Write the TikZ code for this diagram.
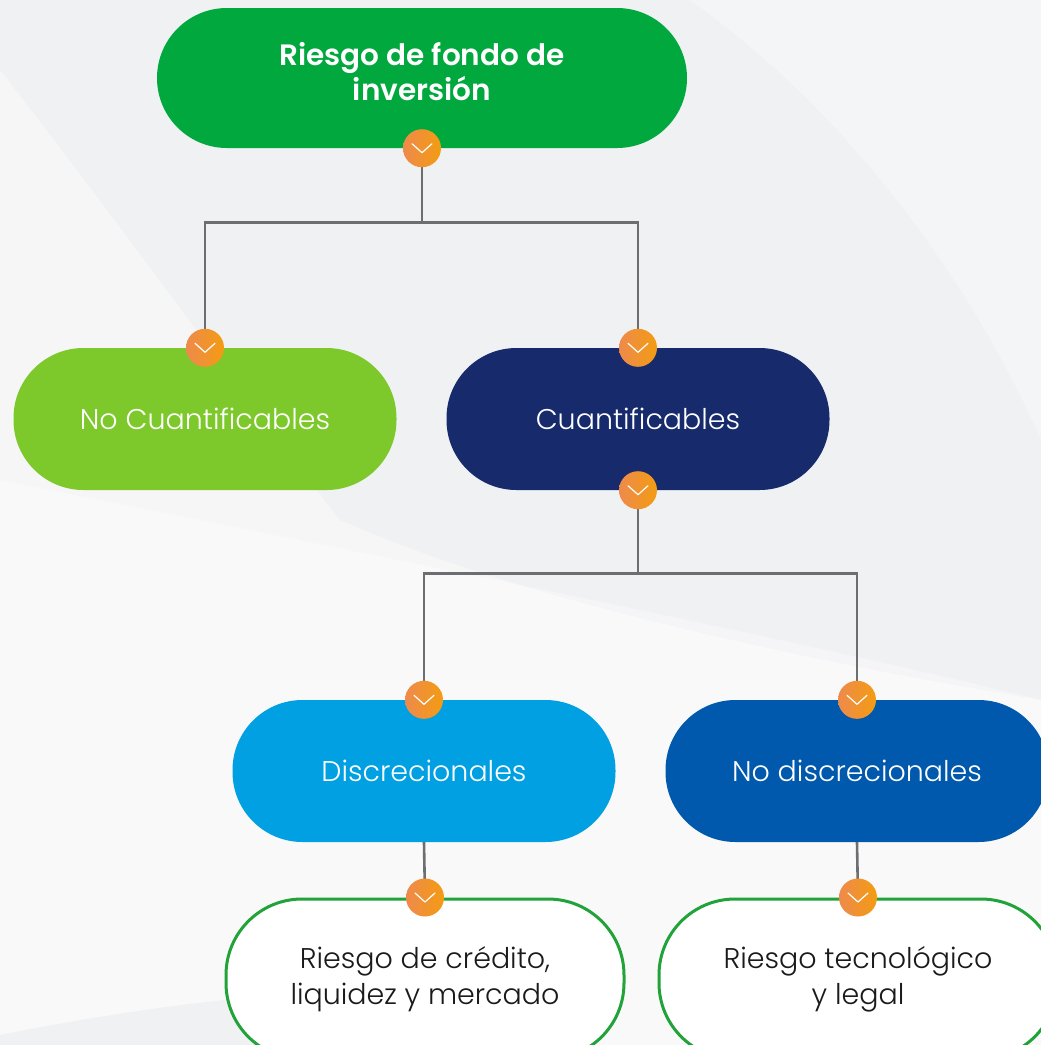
\documentclass[tikz,border=0pt]{standalone}
\usepackage{fontspec}
\setmainfont{Poppins}[UprightFont=* Light, BoldFont=* SemiBold]
\usepackage{xcolor}
\usepackage{tikz}
\usetikzlibrary{positioning, shapes.geometric}
\definecolor{bggray}{HTML}{F0F1F3}
\definecolor{topgreen}{HTML}{00A83E}
\definecolor{limegreen}{HTML}{7DC92B}
\definecolor{navyblue}{HTML}{172A6C}
\definecolor{skyblue}{HTML}{00A0E2}
\definecolor{midblue}{HTML}{0059AC}
\definecolor{rimgreen}{HTML}{22A33A}
\definecolor{linegray}{HTML}{6D6E71}
\definecolor{dotleft}{HTML}{EE8A4C}
\definecolor{dotright}{HTML}{F39C12}
\definecolor{inkdark}{HTML}{1A1A1A}
\tikzset{
    pill/.style={rectangle, rounded corners=70pt, minimum width=383pt, minimum height=142pt, text centered, text=white, font=\fontsize{28.5}{36}\selectfont, align=center},
    leaf/.style={pill, fill=white, draw=rimgreen, line width=3pt, text=inkdark, minimum width=398pt, minimum height=160pt, rounded corners=76pt},
    conn/.style={draw=linegray, line width=2.6pt},
}

\begin{document}
\begin{tikzpicture}[
      x=1pt, y=-1pt,
      dot/.style={circle, minimum size=38pt, inner sep=0pt, left color=dotleft, right color=dotright, shading angle=90},
      chev/.style={draw=white, line width=1.2pt, line cap=round, line join=round}
    ]
    \fill[bggray] (0,0) rectangle (1041,1045);
    \useasboundingbox (0,0) rectangle (1041,1045);
    \fill[white, opacity=0.4] (0,70) .. controls (140,250) and (260,420) .. (340,520) .. controls (520,600) and (800,660) .. (1041,700) -- (1041,1045) -- (0,1045) -- cycle;
    \fill[white, opacity=0.35] (0,480) .. controls (400,560) and (800,640) .. (1041,700) -- (1041,1045) -- (0,1045) -- cycle;
    \fill[white, opacity=0.3] (690,0) .. controls (860,120) and (980,300) .. (1041,440) -- (1041,0) -- cycle;
    \fill[bggray] (0,1035) .. controls (100,1015) and (200,1000) .. (330,990) -- (330,1045) -- (0,1045) -- cycle;

    \node[pill, fill=topgreen, minimum width=530pt, minimum height=140pt, font=\fontsize{29.5}{35}\selectfont\bfseries] (root) at (422,78) {Riesgo de fondo de\\inversión\rule[-14pt]{0pt}{1pt}};
    \node[pill, fill=limegreen] (nocuant) at (205,419) {No Cuantificables};
    \node[pill, fill=navyblue] (cuant) at (638,419) {Cuantificables};
    \node[pill, fill=skyblue] (disc) at (424,771) {Discrecionales};
    \node[pill, fill=midblue] (nodisc) at (857,771) {No discrecionales};
    \node[leaf] (credito) at (425,979) {Riesgo de crédito,\\liquidez y mercado};
    \node[leaf] (tecno) at (858,979) {Riesgo tecnológico\\y legal};

    \draw[conn] (root.south) -- ++(0,74) -| (nocuant.north);
    \draw[conn] (root.south) -- ++(0,74) -| (cuant.north);
    \draw[conn] (cuant.south) -- ++(0,83) -| (disc.north);
    \draw[conn] (cuant.south) -- ++(0,83) -| (nodisc.north);
    \draw[conn] (disc.south) -- (credito.north);
    \draw[conn] (nodisc.south) -- (tecno.north);

    \foreach \spot in {root.south, nocuant.north, cuant.north, cuant.south, disc.north, nodisc.north, credito.north, tecno.north} {
        \node[dot] (d) at (\spot) {};
        \draw[chev] ([xshift=-10pt, yshift=4.5pt]d.center) -- ([yshift=-4.5pt]d.center) -- ([xshift=10pt, yshift=4.5pt]d.center);
    }
\end{tikzpicture}
\end{document}
